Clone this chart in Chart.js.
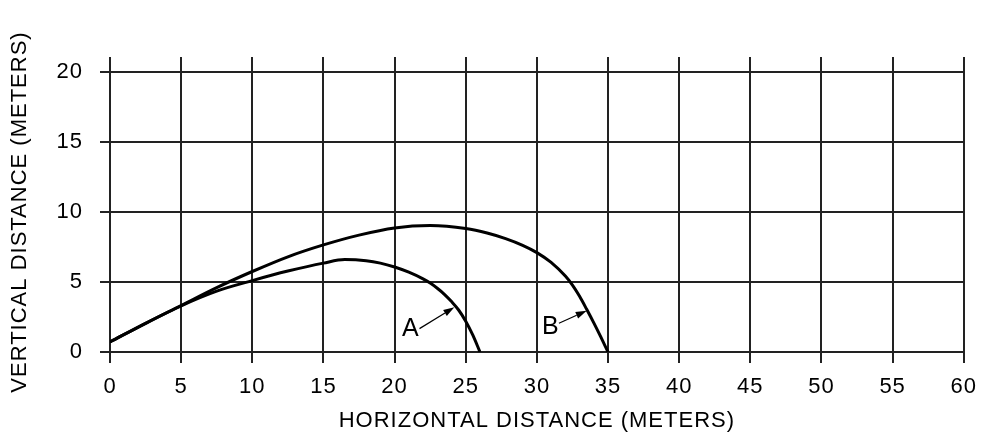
<!DOCTYPE html>
<html>
<head>
<meta charset="utf-8">
<script src="https://cdn.jsdelivr.net/npm/chart.js@4"></script>
<style>
  html, body { margin: 0; padding: 0; background: #fff; }
  #wrap { width: 987px; height: 433px; }
</style>
</head>
<body>
<div id="wrap"><canvas id="trajectory"></canvas></div>
<script>
// trajectory A
var distA   = [0, 2.5, 5, 7.5, 10, 12.5, 15, 16.5, 18, 19, 20, 21, 22, 22.5, 23, 23.5, 24, 24.5, 25, 25.5, 26];
var heightA = [0.72, 2.05, 3.3, 4.35, 5.1, 5.78, 6.35, 6.6, 6.52, 6.35, 6.07, 5.7, 5.22, 4.92, 4.55, 4.12, 3.6, 3.0, 2.2, 1.2, 0];
// trajectory B
var distB   = [0, 2.5, 5, 7.5, 10, 12.5, 15, 17.5, 20, 22.5, 25, 26.5, 27.8, 29, 30, 31, 32, 32.5, 33, 33.5, 34, 34.5, 35];
var heightB = [0.72, 2.05, 3.32, 4.6, 5.75, 6.8, 7.65, 8.35, 8.86, 9.03, 8.82, 8.5, 8.1, 7.62, 7.1, 6.4, 5.42, 4.78, 3.98, 3.05, 2.08, 1.06, 0];

var xMax = 60, yMax = 20, tickStep = 5;

// callout letters and their arrows, in data units
var calloutText = ['A', 'B'];
var calloutX    = [21.1, 30.95];
var calloutY    = [1.67, 1.8];
var arrowFromX  = [21.75, 31.55];
var arrowFromY  = [1.67, 2.05];
var arrowToX    = [24.2, 33.5];
var arrowToY    = [3.2, 2.95];

var gridColor = '#222';

function toPoints(xs, ys) {
    return xs.map(function (x, i) { return { x: x, y: ys[i] }; });
}

var calloutPlugin = {
    id: 'callouts',
    beforeDraw: function (chart) {
        chart.ctx.letterSpacing = '1px';
    },
    afterDatasetsDraw: function (chart) {
        var ctx = chart.ctx, xs = chart.scales.x, ys = chart.scales.y;
        ctx.save();
        ctx.letterSpacing = '0px';
        ctx.fillStyle = '#000';
        ctx.strokeStyle = '#000';
        ctx.font = '25px "Liberation Sans", Arial, sans-serif';
        ctx.textAlign = 'center';
        ctx.textBaseline = 'middle';
        for (var i = 0; i < calloutText.length; i++) {
            ctx.fillText(calloutText[i], xs.getPixelForValue(calloutX[i]), ys.getPixelForValue(calloutY[i]));

            var x1 = xs.getPixelForValue(arrowFromX[i]), y1 = ys.getPixelForValue(arrowFromY[i]);
            var x2 = xs.getPixelForValue(arrowToX[i]),   y2 = ys.getPixelForValue(arrowToY[i]);
            var ang = Math.atan2(y2 - y1, x2 - x1);
            var head = 11;
            ctx.lineWidth = 1.2;
            ctx.beginPath();
            ctx.moveTo(x1, y1);
            ctx.lineTo(x2 - head * Math.cos(ang), y2 - head * Math.sin(ang));
            ctx.stroke();
            ctx.beginPath();
            ctx.moveTo(x2, y2);
            ctx.lineTo(x2 - head * Math.cos(ang) + 3.5 * Math.sin(ang), y2 - head * Math.sin(ang) - 3.5 * Math.cos(ang));
            ctx.lineTo(x2 - head * Math.cos(ang) - 3.5 * Math.sin(ang), y2 - head * Math.sin(ang) + 3.5 * Math.cos(ang));
            ctx.closePath();
            ctx.fill();
        }
        ctx.restore();
    }
};

Chart.defaults.font.family = '"Liberation Sans", Arial, sans-serif';
Chart.defaults.color = '#000';

new Chart(document.getElementById('trajectory').getContext('2d'), {
    type: 'line',
    data: {
        datasets: [
            { label: 'A', data: toPoints(distA, heightA) },
            { label: 'B', data: toPoints(distB, heightB) }
        ]
    },
    options: {
        responsive: true,
        maintainAspectRatio: false,
        animation: false,
        layout: { padding: { top: 57, right: 19, left: 0, bottom: 0 } },
        elements: {
            point: { radius: 0 },
            line: { borderColor: '#000', borderWidth: 3, cubicInterpolationMode: 'monotone', fill: false }
        },
        plugins: { legend: { display: false }, tooltip: { enabled: false } },
        scales: {
            x: {
                type: 'linear',
                position: 'bottom',
                min: 0, max: xMax,
                ticks: { stepSize: tickStep, font: { size: 22 }, padding: 11, maxRotation: 0 },
                grid: { color: gridColor, lineWidth: 2, tickLength: 11 },
                border: { color: gridColor, width: 2 },
                title: { display: true, text: 'HORIZONTAL DISTANCE (METERS)', font: { size: 22, lineHeight: 1 }, padding: { top: 0, bottom: 1 } },
                afterFit: function (s) { s.height = 81; }
            },
            xTop: {
                type: 'linear',
                position: 'top',
                min: 0, max: xMax,
                ticks: { stepSize: tickStep, display: false },
                grid: { color: gridColor, lineWidth: 2, tickLength: 15, drawOnChartArea: false },
                border: { display: false },
                afterFit: function (s) { s.height = 15; }
            },
            y: {
                min: 0, max: yMax,
                ticks: { stepSize: tickStep, font: { size: 22 }, padding: 17 },
                grid: { color: gridColor, lineWidth: 2, tickLength: 10 },
                border: { color: gridColor, width: 2 },
                title: { display: true, text: 'VERTICAL DISTANCE (METERS)', font: { size: 22, lineHeight: 1.2 }, padding: { top: 7 } },
                afterFit: function (s) { s.width = 110; }
            }
        }
    },
    plugins: [calloutPlugin]
});
</script>
</body>
</html>
